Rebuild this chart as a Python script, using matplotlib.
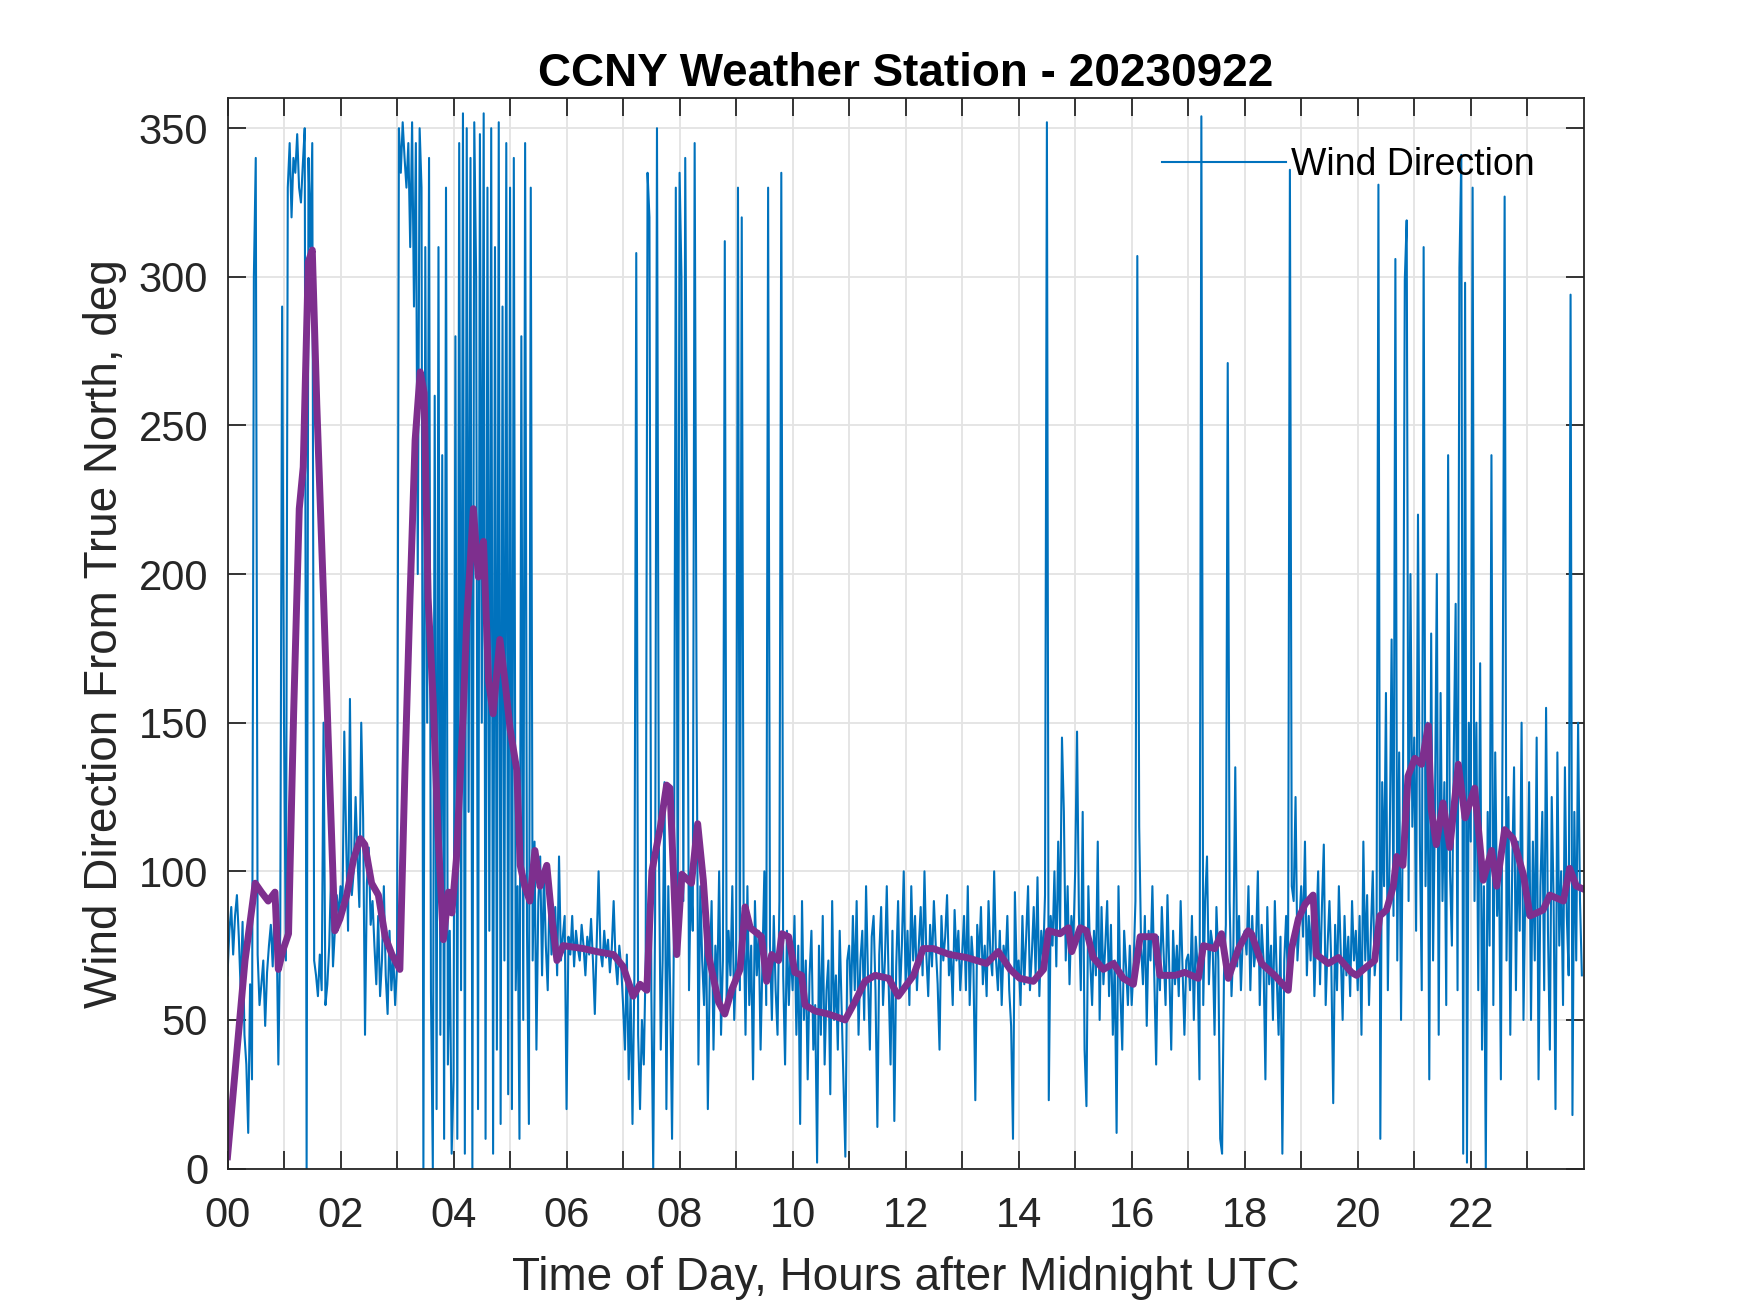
import numpy as np
import matplotlib
matplotlib.use("Agg")
import matplotlib.pyplot as plt

# wind direction samples, 2-minute spacing, one list per hour (deg from true north)
wd_h00 = [65, 80, 88, 72, 85, 92, 78, 60, 83, 45, 35, 12, 62, 30, 300, 340, 72, 55, 62, 70, 48, 66, 75, 82, 68, 90, 85, 35, 80, 290]
wd_h01 = [150, 70, 330, 345, 320, 340, 335, 348, 330, 325, 338, 350, 0, 340, 310, 345, 70, 65, 58, 72, 60, 150, 55, 62, 75, 100, 68, 80, 92, 85]
wd_h02 = [95, 85, 147, 110, 80, 158, 92, 100, 125, 105, 88, 150, 118, 45, 96, 108, 82, 90, 75, 62, 85, 58, 70, 95, 65, 52, 80, 60, 72, 55]
wd_h03 = [68, 350, 335, 352, 340, 330, 345, 310, 352, 290, 345, 200, 350, 330, 0, 310, 150, 340, 60, 0, 260, 20, 310, 45, 240, 10, 330, 35, 80, 5]
wd_h04 = [30, 280, 10, 345, 60, 355, 5, 350, 120, 340, 0, 352, 300, 20, 348, 150, 355, 10, 330, 80, 350, 5, 310, 40, 352, 15, 290, 70, 345, 25]
wd_h05 = [330, 20, 340, 60, 95, 10, 280, 50, 345, 80, 15, 330, 70, 110, 40, 90, 105, 65, 100, 75, 60, 95, 72, 80, 88, 65, 105, 70, 78, 85]
wd_h06 = [20, 78, 72, 85, 68, 80, 74, 70, 82, 75, 65, 78, 72, 84, 70, 52, 76, 100, 73, 68, 80, 71, 77, 66, 74, 90, 70, 62, 75, 68]
wd_h07 = [55, 40, 72, 30, 60, 15, 65, 308, 45, 20, 50, 35, 70, 335, 320, 60, 0, 85, 350, 110, 40, 70, 130, 20, 95, 60, 10, 80, 330, 75]
wd_h08 = [335, 300, 90, 340, 218, 60, 100, 80, 345, 160, 35, 95, 70, 55, 85, 20, 65, 90, 40, 75, 60, 100, 45, 70, 312, 55, 80, 65, 95, 50]
wd_h09 = [70, 330, 60, 320, 85, 45, 95, 55, 75, 30, 90, 65, 80, 40, 70, 100, 55, 330, 75, 50, 85, 60, 45, 90, 335, 65, 35, 80, 55, 75]
wd_h10 = [60, 85, 45, 75, 15, 90, 50, 70, 30, 65, 80, 40, 55, 2, 75, 45, 85, 35, 60, 70, 25, 90, 50, 65, 40, 80, 55, 30, 4, 70]
wd_h11 = [75, 55, 85, 60, 90, 45, 70, 80, 50, 95, 65, 40, 78, 85, 60, 14, 72, 88, 55, 70, 95, 62, 35, 80, 16, 68, 90, 58, 75, 100]
wd_h12 = [62, 80, 55, 95, 70, 85, 60, 75, 88, 65, 100, 72, 58, 82, 68, 90, 75, 62, 40, 85, 70, 78, 92, 65, 73, 55, 87, 70, 80, 60]
wd_h13 = [72, 85, 60, 95, 55, 78, 68, 23, 82, 70, 88, 62, 75, 58, 90, 72, 65, 100, 70, 60, 80, 55, 75, 68, 85, 60, 48, 10, 93, 65]
wd_h14 = [70, 55, 85, 62, 78, 95, 60, 72, 88, 65, 98, 58, 80, 70, 92, 352, 23, 85, 75, 100, 68, 110, 80, 145, 120, 70, 95, 62, 85, 75]
wd_h15 = [100, 147, 85, 60, 120, 40, 21, 95, 70, 55, 80, 65, 110, 50, 88, 62, 75, 90, 58, 82, 45, 70, 12, 95, 60, 40, 80, 68, 55, 75]
wd_h16 = [55, 68, 90, 307, 115, 75, 62, 85, 48, 80, 70, 95, 65, 35, 78, 60, 88, 72, 55, 92, 66, 40, 80, 62, 75, 58, 90, 68, 45, 70]
wd_h17 = [72, 60, 85, 50, 78, 68, 30, 354, 55, 90, 105, 62, 80, 75, 45, 88, 70, 10, 5, 65, 82, 271, 90, 58, 75, 135, 68, 85, 60, 78]
wd_h18 = [80, 72, 95, 60, 85, 68, 75, 100, 55, 82, 70, 30, 88, 62, 75, 50, 90, 65, 45, 78, 5, 70, 85, 60, 336, 95, 90, 125, 70, 82]
wd_h19 = [95, 78, 110, 65, 85, 70, 92, 58, 80, 100, 62, 88, 109, 55, 75, 90, 68, 22, 82, 60, 95, 72, 50, 85, 65, 78, 58, 90, 70, 80]
wd_h20 = [60, 85, 45, 110, 70, 92, 55, 80, 100, 65, 75, 331, 10, 130, 95, 160, 60, 110, 178, 85, 306, 70, 140, 50, 120, 299, 319, 90, 200, 115]
wd_h21 = [145, 80, 220, 110, 60, 310, 95, 150, 30, 180, 70, 120, 200, 45, 160, 90, 130, 55, 240, 100, 75, 140, 190, 60, 303, 341, 5, 298, 2, 150]
wd_h22 = [110, 330, 90, 150, 60, 170, 40, 95, 0, 120, 75, 240, 55, 140, 85, 105, 30, 160, 327, 70, 125, 45, 100, 135, 60, 110, 80, 150, 50, 95]
wd_h23 = [85, 130, 50, 110, 70, 145, 30, 95, 120, 60, 155, 80, 40, 125, 90, 20, 140, 75, 100, 55, 135, 85, 65, 294, 18, 120, 70, 150, 90, 65]

# smoothed (running mean) curve
avg_hours = [0.0, 0.31, 0.49, 0.6, 0.72, 0.84, 0.9, 0.99, 1.08, 1.17, 1.27, 1.34, 1.43, 1.5, 1.58, 1.7, 1.78, 1.9, 1.99,
             2.11, 2.23, 2.35, 2.43, 2.55, 2.67, 2.79, 2.91, 3.05, 3.14, 3.23, 3.32, 3.41, 3.48, 3.55, 3.64, 3.73, 3.82,
             3.91, 3.97, 4.05, 4.17, 4.23, 4.35, 4.44, 4.53, 4.62, 4.70, 4.82, 4.91, 5.0, 5.12, 5.18, 5.26, 5.35, 5.44,
             5.53, 5.65, 5.74, 5.83, 5.94, 6.3, 6.53, 6.83, 7.0, 7.18, 7.3, 7.42, 7.51, 7.66, 7.77, 7.83, 7.95, 8.04,
             8.21, 8.32, 8.42, 8.51, 8.69, 8.8, 8.92, 9.07, 9.16, 9.25, 9.45, 9.54, 9.63, 9.75, 9.81, 9.93, 10.04, 10.16,
             10.22, 10.4, 10.63, 10.93, 11.1, 11.28, 11.46, 11.7, 11.87, 12.14, 12.31, 12.49, 12.78, 13.08, 13.43, 13.64,
             13.85, 14.02, 14.26, 14.44, 14.53, 14.73, 14.88, 14.94, 15.09, 15.2, 15.32, 15.5, 15.68, 15.85, 16.03, 16.15,
             16.41, 16.5, 16.77, 16.94, 17.18, 17.27, 17.47, 17.59, 17.71, 17.89, 18.06, 18.12, 18.3, 18.53, 18.77, 18.83,
             18.95, 19.07, 19.21, 19.27, 19.48, 19.66, 19.89, 19.98, 20.1, 20.3, 20.39, 20.51, 20.63, 20.69, 20.8, 20.89,
             21.01, 21.13, 21.25, 21.3, 21.39, 21.51, 21.63, 21.78, 21.9, 22.07, 22.22, 22.37, 22.46, 22.6, 22.75, 22.93,
             23.05, 23.28, 23.4, 23.64, 23.75, 23.87, 24.0]
avg_deg = [4, 70, 96, 93, 90, 93, 67, 74, 79, 153, 222, 236, 305, 309, 257, 192, 146, 80, 84,
           92, 104, 111, 109, 96, 92, 78, 72, 67, 134, 192, 245, 268, 261, 192, 157, 111, 77,
           93, 86, 104, 153, 183, 222, 199, 211, 164, 153, 178, 164, 148, 134, 102, 95, 90, 107,
           95, 102, 84, 70, 75, 74, 73, 72, 68, 58, 62, 60, 100, 115, 129, 128, 72, 99,
           96, 116, 97, 72, 56, 52, 60, 67, 88, 81, 78, 63, 72, 70, 79, 78, 66, 65,
           55, 53, 52, 50, 56, 63, 65, 64, 58, 65, 74, 74, 72, 71, 69, 73,
           67, 64, 63, 67, 80, 79, 81, 73, 81, 80, 71, 67, 69, 64, 62, 78,
           78, 65, 65, 66, 64, 75, 74, 79, 64, 74, 80, 79, 69, 65, 60, 74,
           84, 89, 92, 72, 69, 71, 66, 65, 67, 70, 85, 87, 95, 105, 102, 132,
           138, 136, 149, 121, 109, 123, 108, 136, 118, 128, 97, 107, 95, 114, 111, 99,
           85, 87, 92, 90, 101, 95, 94]

x_tick_labels = ["00", "", "02", "", "04", "", "06", "", "08", "", "10", "", "12", "",
                 "14", "", "16", "", "18", "", "20", "", "22", ""]

hourly = [wd_h00, wd_h01, wd_h02, wd_h03, wd_h04, wd_h05, wd_h06, wd_h07, wd_h08, wd_h09, wd_h10, wd_h11,
          wd_h12, wd_h13, wd_h14, wd_h15, wd_h16, wd_h17, wd_h18, wd_h19, wd_h20, wd_h21, wd_h22, wd_h23]
wind_dir = np.concatenate([np.array(v, dtype=float) for v in hourly])
hours = np.concatenate([h + np.arange(len(v)) / len(v) for h, v in enumerate(hourly)])

plt.rcParams['font.family'] = ['Liberation Sans', 'DejaVu Sans']
ink = '#262626'

fig = plt.figure(figsize=(17.5, 13.13), dpi=100)
ax = fig.add_axes([0.13, 0.11, 0.775, 0.815])

line_wd, = ax.plot(hours, wind_dir, color='#0072BD', lw=1.5, label='Wind Direction')
ax.plot(avg_hours, avg_deg, color='#7E2F8E', lw=5, solid_joinstyle='round')

ax.set_xlim(0, 24)
ax.set_ylim(0, 360)
ax.set_xticks(np.arange(0, 24))
ax.set_xticklabels(x_tick_labels)
ax.set_yticks(np.arange(0, 351, 50))

ax.grid(True, color='#e3e3e3', lw=1.3)
ax.set_axisbelow(True)
ax.tick_params(direction='in', length=13, width=1.3, top=True, right=True, colors=ink,
               labelsize=30)
ax.tick_params(axis='x', pad=20)
ax.tick_params(axis='y', pad=14)
for s in ax.spines.values():
    s.set_color(ink)
    s.set_linewidth(1.3)

ax.set_title('CCNY Weather Station - 20230922', fontsize=33, fontweight='bold', pad=9)
ax.set_xlabel('Time of Day, Hours after Midnight UTC', fontsize=33, color=ink, labelpad=14)
ax.set_ylabel('Wind Direction From True North, deg', fontsize=33, color=ink, labelpad=8)

ax.legend(handles=[line_wd], loc='upper right', frameon=False, fontsize=27,
          handlelength=3.3, borderaxespad=0.9, handletextpad=0.15)

fig.savefig('out.png', dpi=100)
